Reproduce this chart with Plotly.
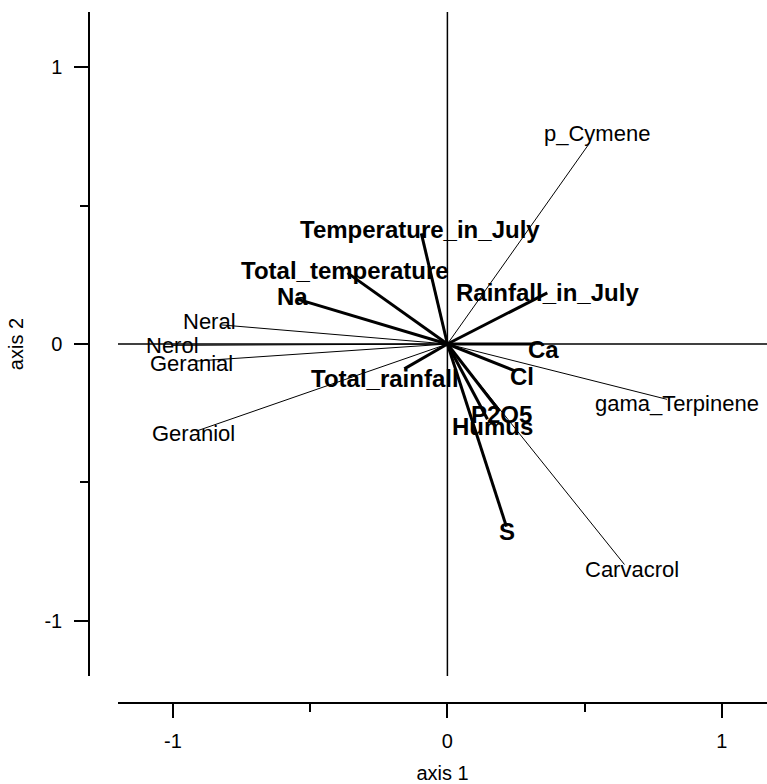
import plotly.graph_objects as go

# ---- data ----
compound_names = ["p_Cymene", "Neral", "Nerol", "Geranial", "Geraniol",
                  "gama_Terpinene", "Carvacrol"]
compound_x = [0.517, -0.823, -1.0, -0.92, -0.915, 0.80, 0.645]
compound_y = [0.725, 0.069, -0.005, -0.062, -0.315, -0.20, -0.797]

env_names = ["Temperature_in_July", "Total_temperature", "Na", "Rainfall_in_July",
             "Ca", "Cl", "Total_rainfall", "P2O5", "Humus", "S"]
env_x = [-0.095, -0.364, -0.55, 0.364, 0.32, 0.248, -0.157, 0.19, 0.146, 0.215]
env_y = [0.40, 0.257, 0.163, 0.185, 0.0, -0.098, -0.09, -0.243, -0.272, -0.66]

tick_vals = [-1, 0, 1]
tick_text = ["-1", "0", "1"]
minor_vals = [-0.5, 0.5]

# ---- style: label pixel offsets (dx, dy up) ----
compound_shift = [(8, 10), (-12, 3), (0, 0), (-3, -2), (-3, -2), (10, -4), (8, -5)]
env_shift = [(-1, 4), (-2, 2), (-4, 2), (0, 0), (8, -5), (7, -5), (-19, -10),
             (2, -3), (5, -7), (1, -5)]

W, H = 767, 784
ML, MR, MT, MB = 89, 0, 12, 81
XR = [-1.2, 1.1643]
YR = [-1.2, 1.2]
FONT = "Liberation Sans, Arial, sans-serif"


def segs(xs, ys):
    sx, sy = [], []
    for x, y in zip(xs, ys):
        sx += [0, x, None]
        sy += [0, y, None]
    return sx, sy


fig = go.Figure()
cx, cy = segs(compound_x, compound_y)
fig.add_trace(go.Scatter(x=cx, y=cy, mode="lines",
                         line=dict(color="black", width=1), hoverinfo="skip"))
ex, ey = segs(env_x, env_y)
fig.add_trace(go.Scatter(x=ex, y=ey, mode="lines",
                         line=dict(color="black", width=3), hoverinfo="skip"))

# reference cross lines
fig.add_shape(type="line", xref="x", yref="y", x0=XR[0], x1=XR[1], y0=0, y1=0,
              line=dict(color="black", width=1.5))
fig.add_shape(type="line", xref="x", yref="y", x0=0, x1=0, y0=YR[0], y1=YR[1],
              line=dict(color="black", width=1.5))

for n, x, y, (dx, dy) in zip(compound_names, compound_x, compound_y, compound_shift):
    fig.add_annotation(x=x, y=y, text=n, showarrow=False, xshift=dx, yshift=dy,
                       font=dict(family=FONT, size=22, color="black"))
for n, x, y, (dx, dy) in zip(env_names, env_x, env_y, env_shift):
    fig.add_annotation(x=x, y=y, text="<b>" + n + "</b>", showarrow=False,
                       xshift=dx, yshift=dy,
                       font=dict(family=FONT, size=24, color="black"))

pw = W - ML - MR
ph = H - MT - MB
axis_common = dict(showline=True, linecolor="black", linewidth=1.5,
                   ticks="outside", ticklen=14, tickwidth=1.5, tickcolor="black",
                   tickvals=tick_vals, ticktext=tick_text,
                   minor=dict(tickvals=minor_vals, ticks="outside", ticklen=8,
                              tickwidth=1.5, tickcolor="black"),
                   showgrid=False, zeroline=False, anchor="free", position=0,
                   tickfont=dict(family=FONT, size=20, color="black"))
fig.update_layout(
    width=W, height=H,
    margin=dict(l=ML, r=MR, t=MT, b=MB, pad=0),
    paper_bgcolor="white", plot_bgcolor="white",
    showlegend=False,
    xaxis=dict(domain=[29 / pw, 1], range=XR, ticklabelstandoff=6,
               title=dict(text="axis 1", standoff=19,
                          font=dict(family=FONT, size=20, color="black")),
               **axis_common),
    yaxis=dict(domain=[27 / ph, 1], range=YR, ticklabelstandoff=8,
               title=dict(text="axis 2", standoff=14,
                          font=dict(family=FONT, size=20, color="black")),
               **axis_common),
)

fig.write_html("out.html")
